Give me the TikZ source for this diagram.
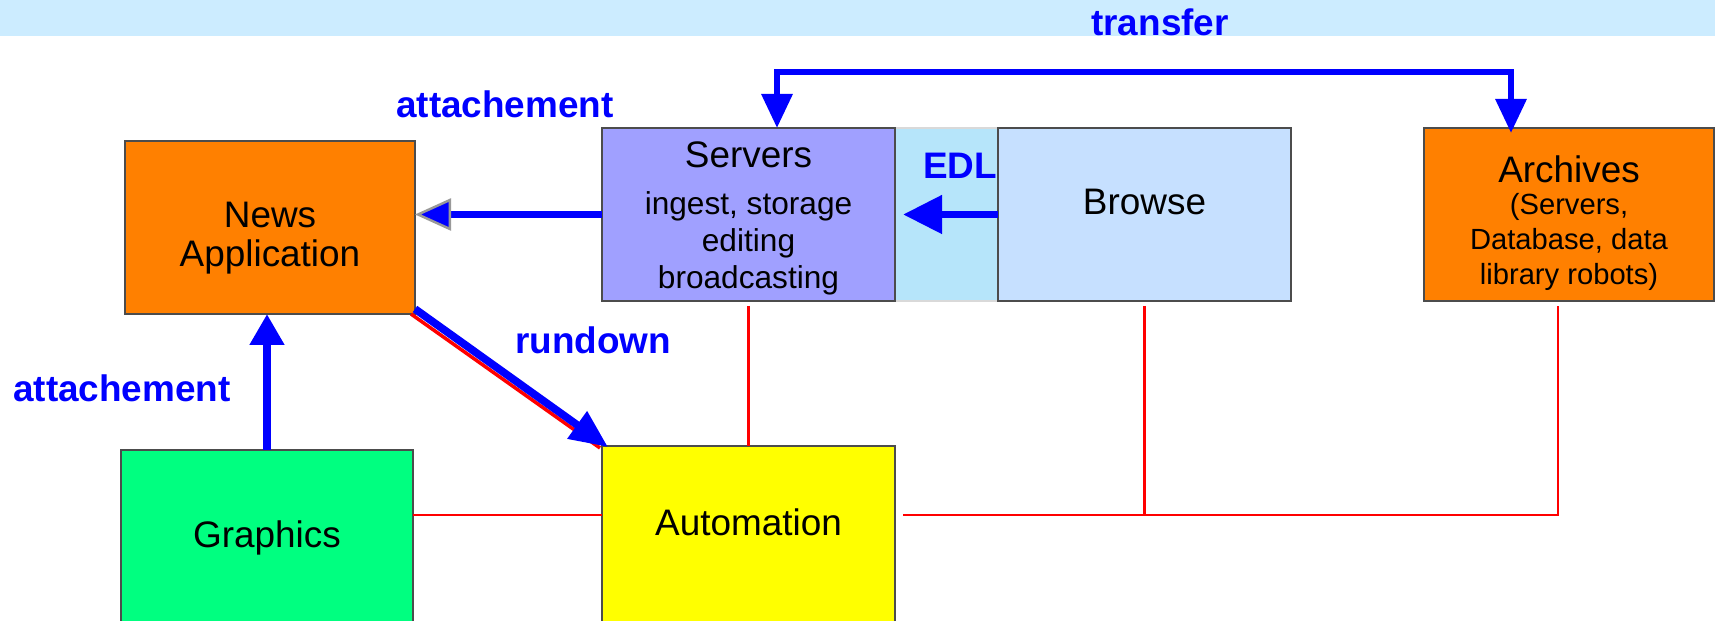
\documentclass[tikz,border=0pt]{standalone}
\usepackage{fontspec}
\setmainfont{Liberation Sans}
\usetikzlibrary{arrows.meta,calc}
\definecolor{bandblue}{HTML}{CCECFF}
\definecolor{newsorange}{HTML}{FF8000}
\definecolor{serverblue}{HTML}{A0A0FF}
\definecolor{stripblue}{HTML}{B6E5FA}
\definecolor{browseblue}{HTML}{C6E0FF}
\definecolor{graphgreen}{HTML}{00FF80}
\definecolor{autoyellow}{HTML}{FFFF00}
\newcommand{\boxtitlefont}{\fontsize{10.5}{11}\selectfont}
\newcommand{\boxsubfont}{\fontsize{9}{10.5}\selectfont}
\newcommand{\archsubfont}{\fontsize{8.3}{10}\selectfont}
\tikzset{
  unitbox/.style={draw=black!70, line width=0.5pt, inner sep=0pt, outer sep=0pt,
    align=center, font=\boxtitlefont, minimum height=1.73cm},
  stripbox/.style={draw=black!15, line width=0.5pt, fill=stripblue, inner sep=0pt,
    outer sep=0pt, minimum width=1.03cm, minimum height=1.73cm},
  bigflow/.style={draw=blue, line width=2.2pt, -{Triangle[length=3.6mm, width=3.6mm]}},
  busline/.style={draw=red, line width=0.6pt},
  flowlab/.style={font=\fontsize{10.5}{11}\selectfont\bfseries, text=blue, inner sep=1pt},
}

\begin{document}
\begin{tikzpicture}
\useasboundingbox (0,0) rectangle (17.15,-6.21);
% title band
\fill[bandblue] (0,0) rectangle (17.15,-0.36);
% upper row
\node[stripbox] (edlstrip) at (9.465,-2.145) {};
\node[unitbox, fill=newsorange, minimum width=2.90cm] (news) at (2.70,-2.275)
  {\rule{0pt}{13.2pt}News\\Application};
\node[unitbox, fill=serverblue, minimum width=2.93cm, font=\boxsubfont] (servers) at (7.485,-2.145)
  {{\boxtitlefont\rule{0pt}{9.5pt}Servers}\\[3pt]ingest, storage\\editing\\broadcasting};
\node[unitbox, fill=browseblue, minimum width=2.93cm, text depth=7.4pt] (browse) at (11.445,-2.145) {Browse};
\node[unitbox, fill=newsorange, minimum width=2.90cm, font=\archsubfont] (archives) at (15.69,-2.145)
  {{\boxtitlefont\rule{0pt}{12.6pt}Archives}\\[-1pt](Servers,\\Database, data\\library robots)};
% lower row
\node[unitbox, fill=graphgreen, minimum width=2.92cm, minimum height=1.75cm] (graphics) at (2.67,-5.375) {Graphics};
\node[unitbox, fill=autoyellow, minimum width=2.93cm, minimum height=1.78cm, text depth=7.4pt] (auto) at (7.485,-5.35) {Automation};
% red links
\coordinate (bus) at ([yshift=0.2cm]auto.east);
\draw[busline, shorten <=0.05cm] (servers.south) -- (auto.north);
\draw[busline] ([yshift=0.2cm]auto.west) -- ([yshift=0.2cm]auto.west -| graphics.east);
\draw[busline, shorten <=0.08cm, shorten >=0.05cm] (bus) -| ([xshift=-0.11cm]archives.south);
\draw[busline, shorten <=0.05cm] (browse.south) -- (browse.south |- bus);
% blue flows
\draw[bigflow, -{Triangle[length=3.9mm, width=3.7mm]}, shorten >=0.08cm] (browse.west) -- (servers.east);
\draw[bigflow, -{Triangle[length=3.6mm, width=3.2mm, fill=blue, color=black!40, line width=0.7pt]}]
  (servers.west) -- (servers.west -| news.east);
\draw[bigflow, -{Triangle[length=3.1mm, width=3.3mm]}] (graphics.north) -- (graphics.north |- news.south);
\draw[busline, line width=1pt] ([xshift=-0.04cm]news.south east) -- ([xshift=-0.02cm,yshift=-0.02cm]auto.north west);
\draw[bigflow, -{Triangle[length=3.8mm, width=3.2mm]}]
  ([yshift=0.05cm]news.south east) -- ([xshift=0.06cm,yshift=-0.01cm]auto.north west);
\draw[bigflow, line width=1.8pt, line join=miter,
  {Triangle[length=3.4mm, width=3.0mm]}-{Triangle[length=3.4mm, width=3.0mm]}]
  ([xshift=0.285cm]servers.north) -- ++(0,0.56) -| ([xshift=-0.58cm,yshift=-0.05cm]archives.north);
% labels
\node[flowlab] (transferlab) at (11.60,-0.22) {transfer};
\node[flowlab] (attachtop) at (5.05,-1.04) {attachement};
\node[flowlab] (edllab) at (9.60,-1.66) {EDL};
\node[flowlab] (rundownlab) at (5.93,-3.40) {rundown};
\node[flowlab] (attachleft) at (1.22,-3.88) {attachement};
\end{tikzpicture}
\end{document}
